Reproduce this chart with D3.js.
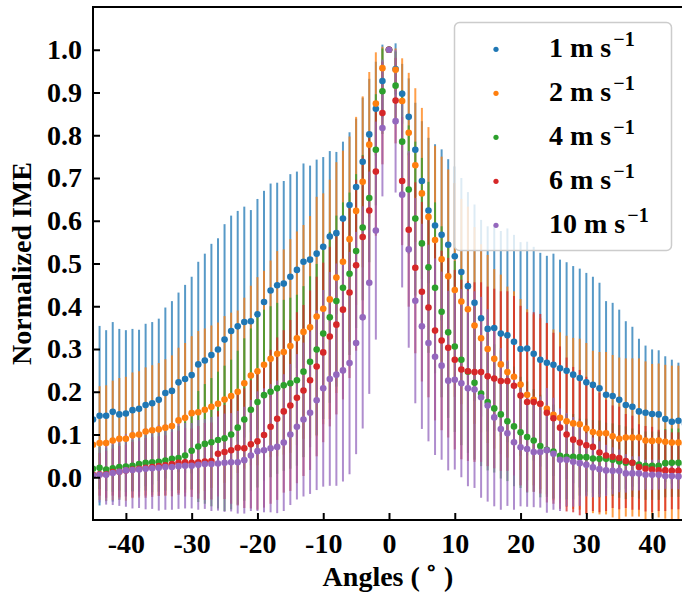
<!DOCTYPE html>
<html><head><meta charset="utf-8">
<script src="https://cdn.jsdelivr.net/npm/d3@7"></script>
<style>body{margin:0;background:#fff}svg{display:block}</style>
</head><body><svg id="c" width="682" height="600"></svg>
<script>
const angles = [-45,-44,-43,-42,-41,-40,-39,-38,-37,-36,-35,-34,-33,-32,-31,-30,-29,-28,-27,-26,-25,-24,-23,-22,-21,-20,-19,-18,-17,-16,-15,-14,-13,-12,-11,-10,-9,-8,-7,-6,-5,-4,-3,-2,-1,0,1,2,3,4,5,6,7,8,9,10,11,12,13,14,15,16,17,18,19,20,21,22,23,24,25,26,27,28,29,30,31,32,33,34,35,36,37,38,39,40,41,42,43,44,45];
const xTicks = [-40,-30,-20,-10,0,10,20,30,40];
const yTicks = [0.0,0.1,0.2,0.3,0.4,0.5,0.6,0.7,0.8,0.9,1.0];
const speeds = ["1","2","4","6","10"];
const colors = ["#1f77b4","#ff7f0e","#2ca02c","#d62728","#9467bd"];

const v1 = [0.135,0.144,0.144,0.153,0.147,0.149,0.157,0.160,0.169,0.173,0.181,
 0.197,0.202,0.222,0.230,0.239,0.264,0.273,0.286,0.299,0.322,
 0.342,0.353,0.363,0.365,0.381,0.410,0.437,0.449,0.453,0.469,
 0.485,0.504,0.509,0.523,0.539,0.563,0.571,0.605,0.637,0.679,
 0.738,0.802,0.862,0.927,1.000,
 0.955,0.897,0.843,0.766,0.693,0.624,0.589,0.567,0.544,0.517,
 0.480,0.447,0.408,0.372,0.347,0.349,0.336,0.332,0.317,0.300,
 0.301,0.289,0.275,0.268,0.263,0.255,0.249,0.240,0.232,0.222,0.216,0.208,
 0.193,0.190,0.181,0.169,0.165,0.154,0.151,0.148,0.147,0.136,0.130,0.132,0.125];
const v2 = [0.076,0.080,0.080,0.086,0.090,0.090,0.098,0.100,0.107,0.110,0.112,
 0.116,0.120,0.133,0.139,0.150,0.152,0.158,0.165,0.172,0.182,
 0.190,0.200,0.220,0.238,0.248,0.263,0.277,0.289,0.293,0.307,
 0.325,0.340,0.351,0.376,0.394,0.416,0.467,0.504,0.557,0.623,
 0.691,0.778,0.874,0.957,1.000,
 0.953,0.880,0.806,0.730,0.664,0.609,0.555,0.510,0.470,0.438,
 0.411,0.393,0.355,0.325,0.300,0.277,0.264,0.246,0.235,0.217,
 0.193,0.181,0.172,0.160,0.146,0.139,0.131,0.126,0.124,0.114,0.106,0.103,
 0.103,0.096,0.090,0.093,0.093,0.093,0.086,0.085,0.086,0.083,0.081,0.081,0.078];
const v4 = [0.020,0.022,0.018,0.021,0.024,0.025,0.027,0.031,0.034,0.035,0.036,
 0.039,0.043,0.045,0.051,0.062,0.072,0.078,0.082,0.087,0.091,
 0.100,0.116,0.135,0.158,0.176,0.192,0.200,0.208,0.215,0.220,
 0.227,0.247,0.270,0.299,0.336,0.374,0.412,0.443,0.476,0.529,
 0.584,0.653,0.766,0.903,1.000,
 0.916,0.785,0.673,0.605,0.547,0.491,0.443,0.387,0.339,0.306,
 0.275,0.247,0.221,0.196,0.176,0.161,0.147,0.131,0.119,0.105,
 0.094,0.086,0.073,0.064,0.060,0.050,0.048,0.048,0.047,0.047,0.044,0.043,
 0.043,0.041,0.037,0.034,0.034,0.030,0.027,0.027,0.027,0.033,0.034,0.034,0.030];
const v6 = [0.006,0.007,0.007,0.012,0.013,0.016,0.018,0.020,0.022,0.024,0.026,
 0.028,0.031,0.034,0.035,0.034,0.035,0.037,0.038,0.055,0.059,
 0.063,0.069,0.068,0.077,0.084,0.099,0.118,0.137,0.154,0.168,
 0.186,0.203,0.227,0.259,0.292,0.329,0.357,0.392,0.432,0.496,
 0.562,0.624,0.715,0.852,1.000,
 0.881,0.693,0.579,0.490,0.434,0.397,0.343,0.320,0.303,0.275,
 0.252,0.248,0.246,0.246,0.236,0.231,0.225,0.225,0.214,0.191,
 0.176,0.176,0.172,0.151,0.138,0.116,0.100,0.088,0.081,0.075,0.071,0.058,
 0.051,0.048,0.045,0.038,0.034,0.024,0.020,0.018,0.016,0.016,0.015,0.015,0.015];
const v10 = [0.004,0.006,0.006,0.010,0.013,0.016,0.017,0.018,0.020,0.021,0.022,
 0.024,0.024,0.026,0.027,0.027,0.029,0.031,0.031,0.032,0.034,
 0.035,0.035,0.040,0.051,0.061,0.063,0.068,0.071,0.081,0.100,
 0.118,0.135,0.151,0.180,0.208,0.230,0.240,0.250,0.267,0.314,
 0.374,0.455,0.577,0.817,1.000,
 0.833,0.661,0.533,0.413,0.353,0.314,0.282,0.261,0.226,0.228,
 0.220,0.208,0.205,0.187,0.168,0.140,0.113,0.103,0.082,0.070,
 0.066,0.059,0.059,0.063,0.055,0.041,0.041,0.036,0.033,0.029,0.023,0.019,
 0.016,0.015,0.015,0.009,0.009,0.009,0.006,0.006,0.006,0.003,0.003,0.002,0.002];

const e1 = [0.22,0.21,0.20,0.21,0.20,0.195,0.19,0.185,0.19,0.19,0.19,
 0.20,0.21,0.21,0.22,0.23,0.24,0.25,0.26,0.26,0.27,
 0.27,0.27,0.27,0.26,0.27,0.26,0.25,0.24,0.24,0.24,
 0.23,0.23,0.22,0.22,0.21,0.20,0.19,0.18,0.17,0.16,
 0.15,0.13,0.11,0.085,0,
 0.06,0.07,0.09,0.11,0.14,0.17,0.19,0.20,0.20,0.21,
 0.22,0.22,0.23,0.23,0.24,0.24,0.24,0.25,0.25,0.25,
 0.25,0.25,0.25,0.25,0.26,0.254,0.254,0.254,0.256,0.256,0.253,0.247,
 0.219,0.218,0.211,0.196,0.187,0.170,0.157,0.151,0.150,0.147,0.145,0.136,0.130];
const e2 = [0.13,0.133,0.135,0.14,0.142,0.145,0.147,0.148,0.15,0.152,0.155,
 0.16,0.165,0.17,0.175,0.18,0.19,0.19,0.19,0.19,0.195,
 0.195,0.19,0.20,0.21,0.22,0.22,0.23,0.24,0.24,0.25,
 0.25,0.25,0.26,0.28,0.27,0.28,0.27,0.26,0.24,0.22,
 0.20,0.17,0.12,0.05,0,
 0.05,0.10,0.14,0.18,0.20,0.21,0.22,0.24,0.25,0.25,
 0.24,0.24,0.23,0.22,0.22,0.21,0.21,0.20,0.20,0.20,
 0.20,0.20,0.20,0.20,0.20,0.20,0.20,0.20,0.20,0.20,0.19,0.19,
 0.19,0.19,0.19,0.185,0.185,0.185,0.185,0.18,0.18,0.18,0.18,0.18,0.18];
const e4 = [0.045,0.05,0.05,0.055,0.055,0.06,0.06,0.065,0.065,0.07,0.07,
 0.07,0.075,0.075,0.08,0.09,0.13,0.14,0.15,0.16,0.17,
 0.175,0.18,0.19,0.19,0.20,0.20,0.20,0.20,0.20,0.20,
 0.20,0.20,0.20,0.20,0.20,0.20,0.20,0.20,0.19,0.18,
 0.17,0.15,0.13,0.10,0,
 0.08,0.12,0.15,0.18,0.20,0.20,0.20,0.20,0.20,0.20,
 0.20,0.19,0.18,0.17,0.16,0.15,0.15,0.14,0.14,0.13,
 0.13,0.12,0.12,0.11,0.11,0.10,0.10,0.10,0.09,0.09,0.09,0.09,
 0.085,0.085,0.085,0.085,0.08,0.08,0.08,0.08,0.08,0.08,0.08,0.08,0.08];
const e6 = [0.05,0.05,0.055,0.055,0.06,0.06,0.065,0.065,0.07,0.07,0.07,
 0.07,0.075,0.075,0.08,0.08,0.085,0.09,0.09,0.10,0.11,
 0.125,0.135,0.14,0.15,0.16,0.17,0.18,0.19,0.19,0.20,
 0.20,0.20,0.21,0.21,0.21,0.21,0.21,0.21,0.20,0.20,
 0.19,0.17,0.15,0.12,0,
 0.10,0.15,0.18,0.20,0.21,0.21,0.21,0.21,0.21,0.21,
 0.21,0.21,0.21,0.21,0.21,0.21,0.21,0.21,0.21,0.21,
 0.21,0.21,0.21,0.21,0.20,0.19,0.18,0.17,0.17,0.16,0.15,0.14,
 0.13,0.12,0.12,0.11,0.11,0.10,0.10,0.10,0.095,0.095,0.09,0.09,0.09];
const e10 = [0.06,0.065,0.07,0.075,0.08,0.085,0.09,0.09,0.095,0.095,0.10,
 0.10,0.10,0.10,0.10,0.10,0.105,0.105,0.11,0.11,0.115,
 0.115,0.12,0.125,0.13,0.14,0.145,0.15,0.155,0.16,0.165,
 0.17,0.18,0.19,0.21,0.23,0.25,0.26,0.26,0.26,0.26,
 0.26,0.26,0.255,0.16,0,
 0.167,0.217,0.23,0.24,0.24,0.23,0.23,0.22,0.21,0.21,
 0.22,0.229,0.23,0.235,0.225,0.208,0.189,0.17,0.158,0.138,
 0.135,0.129,0.13,0.146,0.131,0.12,0.109,0.105,0.10,0.074,0.07,0.065,
 0.06,0.055,0.05,0.045,0.04,0.04,0.035,0.035,0.035,0.03,0.03,0.03,0.03];

const values = [v1, v2, v4, v6, v10];
const errors = [e1, e2, e4, e6, e10];

const FONT = "'Liberation Serif','Times New Roman',Times,serif";
const svg = d3.select("#c");
const L = 93, R = 685, T = 7, B = 520;
const x = d3.scaleLinear().domain([-45, 45]).range([L, R]);
const y = d3.scaleLinear().domain([-0.1, 1.1]).range([B, T]);

svg.append("defs").append("clipPath").attr("id", "clip")
  .append("rect").attr("x", L).attr("y", T).attr("width", R - L).attr("height", B - T);

const plot = svg.append("g").attr("clip-path", "url(#clip)");

// error bars (all series, in order)
values.forEach((vals, s) => {
  plot.append("g").selectAll("line").data(angles).join("line")
    .attr("x1", (a) => x(a)).attr("x2", (a) => x(a))
    .attr("y1", (a, i) => y(vals[i] - errors[s][i]))
    .attr("y2", (a, i) => y(vals[i] + errors[s][i]))
    .attr("stroke", colors[s]).attr("stroke-width", 2).attr("stroke-opacity", 0.75);
});
// markers
values.forEach((vals, s) => {
  plot.append("g").selectAll("circle").data(angles).join("circle")
    .attr("cx", (a) => x(a)).attr("cy", (a, i) => y(vals[i]))
    .attr("r", 3.3).attr("fill", colors[s]);
});

// axes
const xAxis = d3.axisBottom(x).tickValues(xTicks).tickSize(-7).tickSizeOuter(0).tickPadding(13)
  .tickFormat(d3.format("d"));
const gx = svg.append("g").attr("transform", `translate(0,${B})`).call(xAxis);
const yAxis = d3.axisLeft(y).tickValues(yTicks).tickSize(-7).tickSizeOuter(0).tickPadding(11)
  .tickFormat(d3.format(".1f"));
const gy = svg.append("g").attr("transform", `translate(${L},0)`).call(yAxis);
[gx, gy].forEach(g => {
  g.select(".domain").remove();
  g.selectAll(".tick line").attr("stroke", "#000").attr("stroke-width", 2);
  g.selectAll(".tick text").attr("fill", "#000").style("font-family", FONT)
    .style("font-weight", "bold").style("font-size", "28px");
});
gx.selectAll(".tick text").text(d => d < 0 ? "-" + Math.abs(d) : String(d));

// spines
const sp = svg.append("g").attr("stroke", "#000").attr("stroke-width", 2).attr("fill", "none");
sp.append("line").attr("x1", L).attr("x2", L).attr("y1", T).attr("y2", B);
sp.append("line").attr("x1", L - 1).attr("x2", R).attr("y1", B).attr("y2", B);
sp.append("line").attr("x1", L - 1).attr("x2", R).attr("y1", T).attr("y2", T);
sp.append("line").attr("x1", R).attr("x2", R).attr("y1", T).attr("y2", B);

// axis labels
const xl = svg.append("text").attr("x", (L + R) / 2 - 1).attr("y", 586).attr("text-anchor", "middle")
  .style("font-family", FONT).style("font-weight", "bold").style("font-size", "28px");
xl.append("tspan").text("Angles (\u2009");
xl.append("tspan").attr("dy", -11).style("font-size", "20px").text("\u2218");
xl.append("tspan").attr("dy", 11).text("\u2009)");

svg.append("text").attr("transform", `translate(31,${(T + B) / 2}) rotate(-90)`)
  .attr("text-anchor", "middle")
  .style("font-family", FONT).style("font-weight", "bold").style("font-size", "28px")
  .text("Normalized IME");

// legend
const lg = svg.append("g");
lg.append("rect").attr("x", 454.5).attr("y", 22.5).attr("width", 217).attr("height", 228)
  .attr("rx", 5).attr("fill", "#fff").attr("fill-opacity", 0.8)
  .attr("stroke", "#cccccc").attr("stroke-width", 1.5);
speeds.forEach((sname, i) => {
  const cy = 49.3 + i * 44;
  lg.append("circle").attr("cx", 496).attr("cy", cy).attr("r", 2.6).attr("fill", colors[i]);
  const t = lg.append("text").attr("x", 549).attr("y", cy + 7.5)
    .style("font-family", FONT).style("font-weight", "bold").style("font-size", "28px");
  t.append("tspan").text(sname + " m s");
  t.append("tspan").attr("dx", 2).attr("dy", -11).style("font-size", "20px").text("\u22121");
});
</script>
</body></html>
